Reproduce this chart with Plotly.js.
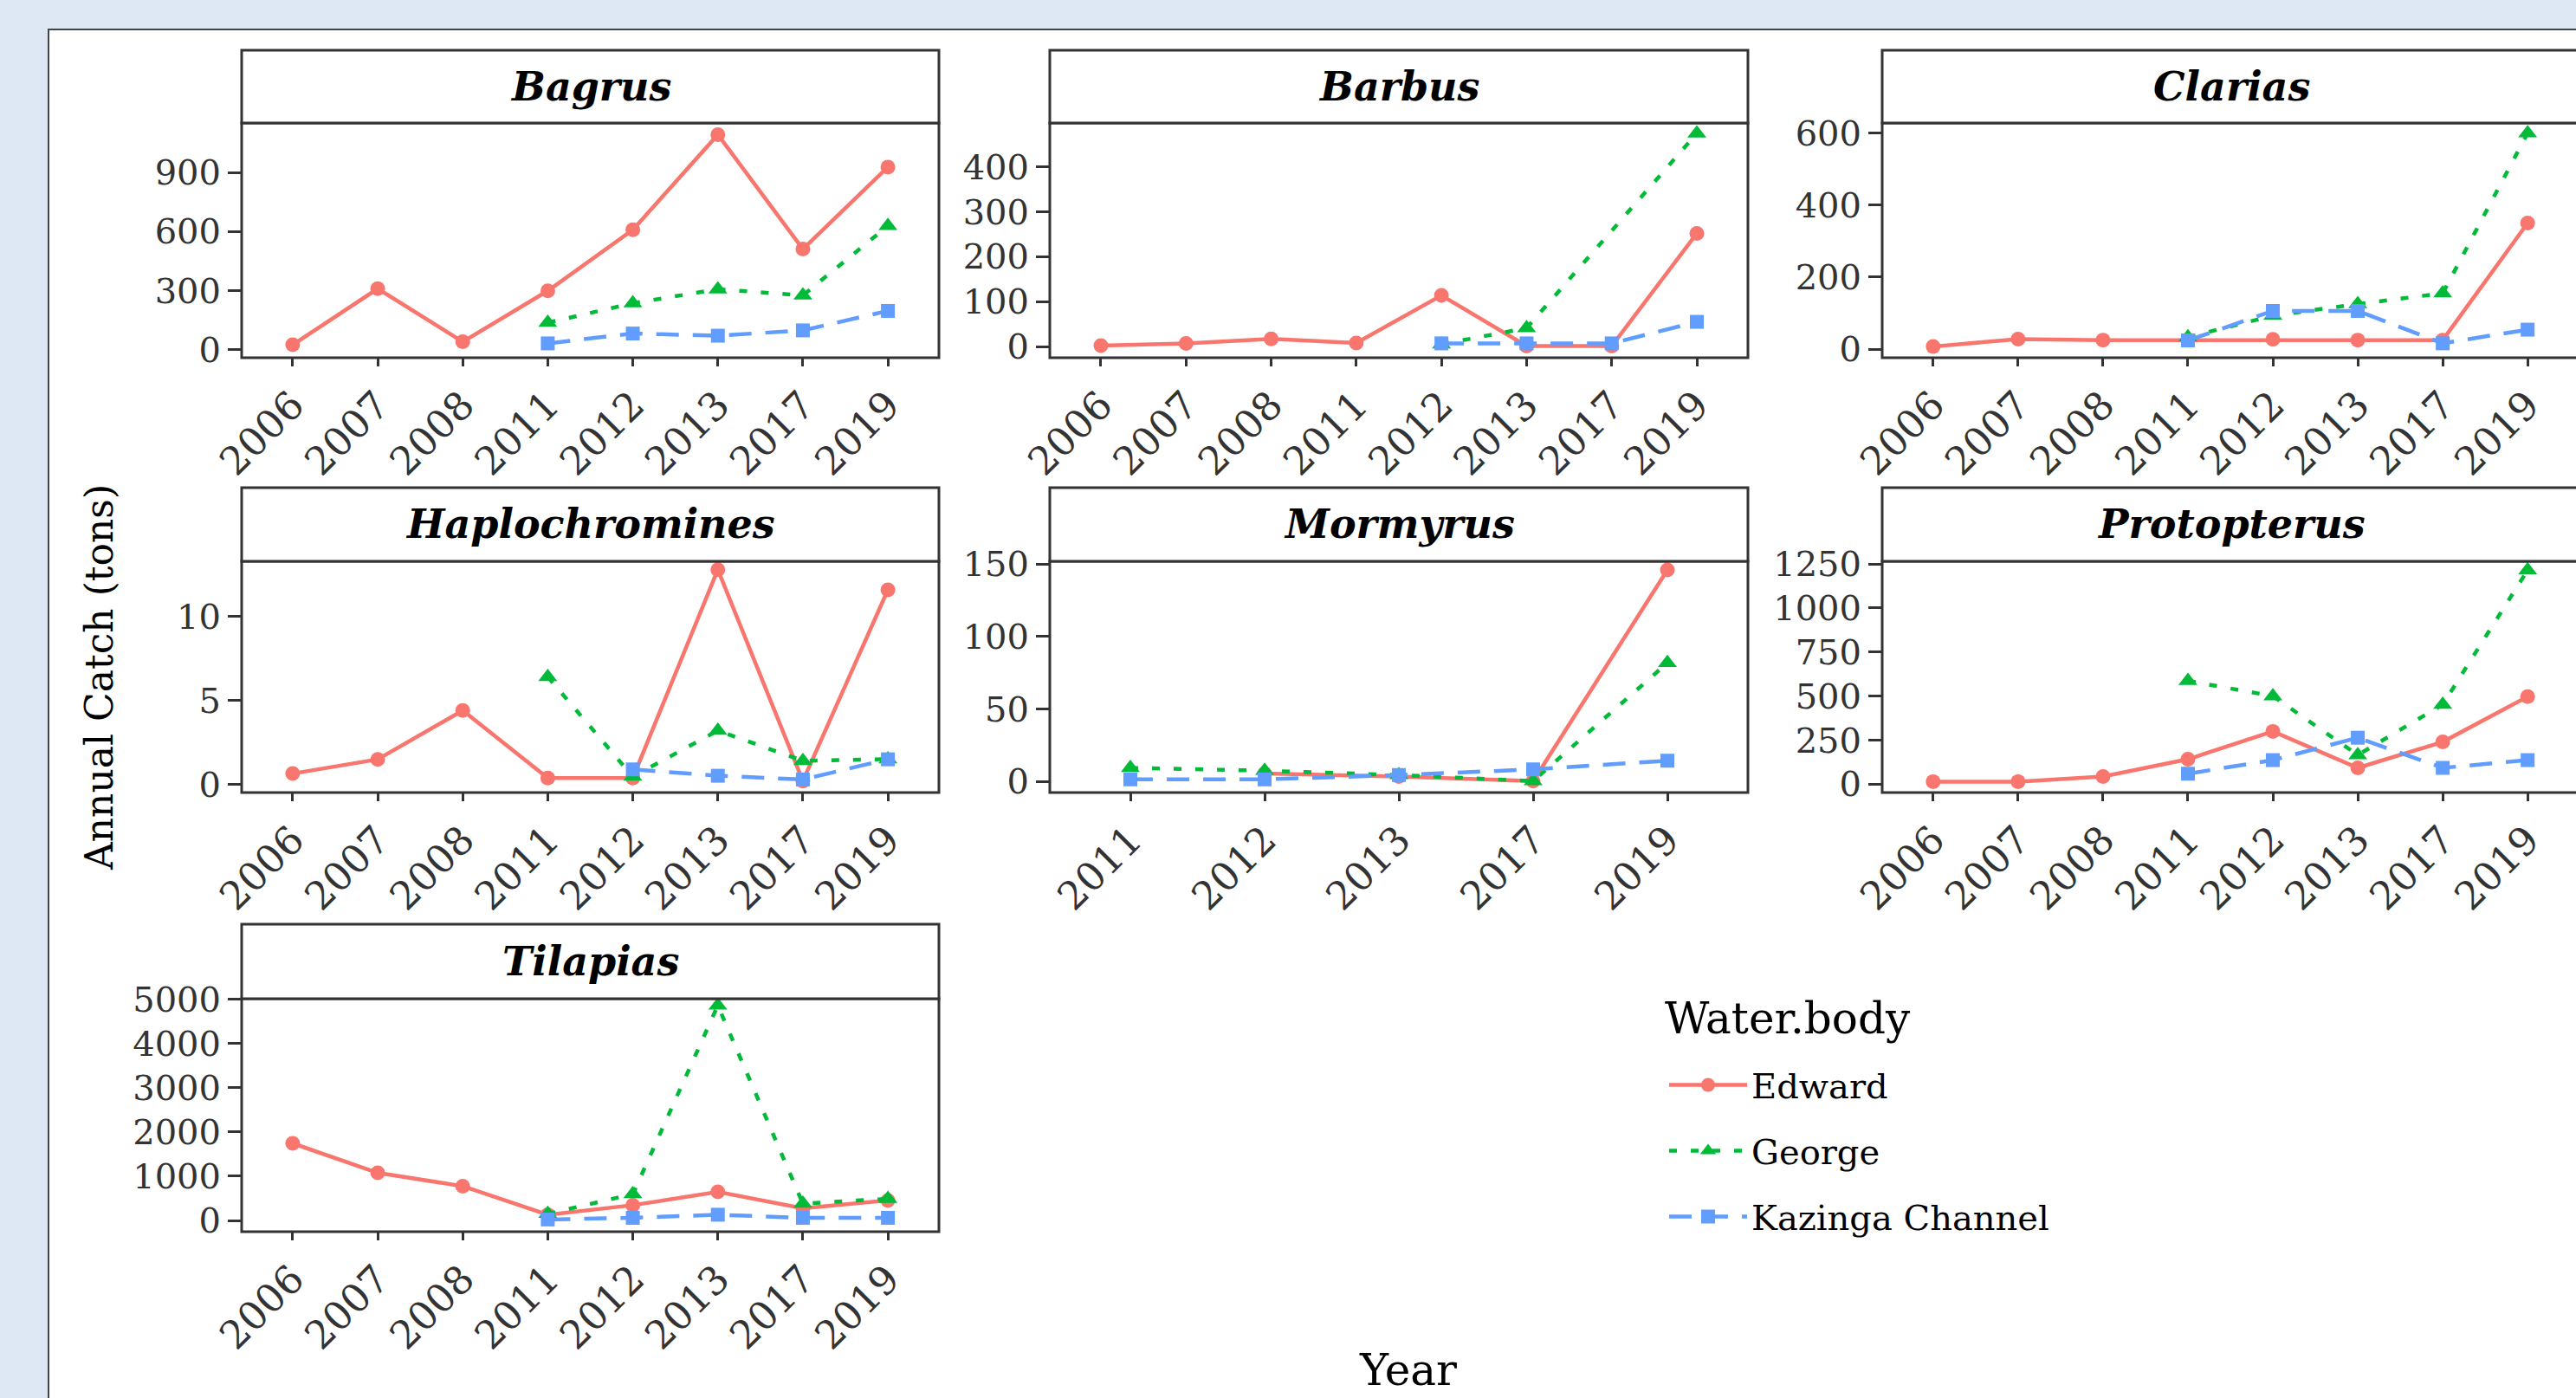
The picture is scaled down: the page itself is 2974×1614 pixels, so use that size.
<!DOCTYPE html>
<html><head><meta charset="utf-8">
<script src="https://cdn.plot.ly/plotly-3.0.1.min.js"></script>
<style>html,body{margin:0;padding:0;background:#dde8f4;overflow:hidden;} #chart{width:2974px;height:1614px;}</style>
</head><body><div id="chart"></div>
<script>
// ---------------- DATA ----------------
const years = ['2006','2007','2008','2011','2012','2013','2017','2019'];
const yearsMormyrus = ['2011','2012','2013','2017','2019'];
const speciesNames = ['Bagrus','Barbus','Clarias','Haplochromines','Mormyrus','Protopterus','Tilapias'];
const waterBodies = ['Edward','George','Kazinga Channel'];

const bagrusEdward  = [25, 310, 40, 299, 609, 1093, 511, 928];
const bagrusGeorge  = [null, null, null, 137, 236, 307, 276, 629];
const bagrusKazinga = [null, null, null, 32, 82, 71, 98, 197];

const barbusEdward  = [2, 7, 17, 8, 114, 1, 1, 252];
const barbusGeorge  = [null, null, null, null, 5, 41, null, 475];
const barbusKazinga = [null, null, null, null, 7, 7, 7, 55];

const clariasEdward  = [7, 28, 25, 25, 27, 25, 25, 350];
const clariasGeorge  = [null, null, null, 33, 93, 125, 155, 600];
const clariasKazinga = [null, null, null, 24, 106, 106, 16, 54];

const haploEdward  = [0.64, 1.49, 4.4, 0.38, 0.38, 12.79, 0.2, 11.59];
const haploGeorge  = [null, null, null, 6.4, 0.46, 3.2, 1.4, 1.5];
const haploKazinga = [null, null, null, null, 0.89, 0.51, 0.29, 1.49];

const mormyrusEdward  = [null, 5.5, 3.4, 0.2, 146];
const mormyrusGeorge  = [9.3, 7.4, 4.4, 0.2, 81.8];
const mormyrusKazinga = [1.4, 1.4, 4.4, 8.3, 14.3];

const protopterusEdward  = [15, 15, 44, 142, 300, 93, 240, 497];
const protopterusGeorge  = [null, null, null, 587, 500, 166, 452, 1215];
const protopterusKazinga = [null, null, null, 60, 137, 264, 93, 137];

const tilapiasEdward  = [1742, 1076, 775, 130, 345, 646, 274, 452];
const tilapiasGeorge  = [null, null, null, 150, 595, 4857, 380, 490];
const tilapiasKazinga = [null, null, null, 22, 59, 130, 59, 59];

// ---------------- LAYOUT HELPERS ----------------
const W = 2974, H = 1614;
const fx = px => px / W;
const fy = px => 1 - px / H;
const FONT = 'DejaVu Serif, Liberation Serif, serif';

const cols = [[279, 1084], [1212, 2018], [2173, 2977]];
const rows = [ {strip: [58, 142], plot: [142, 413]},
               {strip: [563, 648], plot: [648, 915]},
               {strip: [1067, 1153], plot: [1153, 1422]} ];

const panels = [
  {x: years, s: [bagrusEdward, bagrusGeorge, bagrusKazinga], yr: [-41, 1152], dt: 300, c: 0, r: 0},
  {x: years, s: [barbusEdward, barbusGeorge, barbusKazinga], yr: [-25, 498], dt: 100, c: 1, r: 0},
  {x: years, s: [clariasEdward, clariasGeorge, clariasKazinga], yr: [-24, 628], dt: 200, c: 2, r: 0},
  {x: years, s: [haploEdward, haploGeorge, haploKazinga], yr: [-0.49, 13.29], dt: 5, c: 0, r: 1},
  {x: yearsMormyrus, s: [mormyrusEdward, mormyrusGeorge, mormyrusKazinga], yr: [-7.7, 152], dt: 50, c: 1, r: 1},
  {x: years, s: [protopterusEdward, protopterusGeorge, protopterusKazinga], yr: [-47, 1265], dt: 250, c: 2, r: 1},
  {x: years, s: [tilapiasEdward, tilapiasGeorge, tilapiasKazinga], yr: [-254, 5010], dt: 1000, c: 0, r: 2}
];

const styles = [
  {color: '#F8766D', dash: 'solid', symbol: 'circle', size: 17},
  {color: '#00BA38', dash: '9px,16px', symbol: 'triangle-up', size: 19},
  {color: '#619CFF', dash: '26px,16px', symbol: 'square', size: 16}
];

const traces = [];
const layout = {
  width: W, height: H,
  margin: {l: 0, r: 0, t: 0, b: 0},
  paper_bgcolor: '#dde8f4',
  plot_bgcolor: 'rgba(0,0,0,0)',
  showlegend: true,
  font: {family: FONT, color: '#000'},
  shapes: [
    {type: 'rect', xref: 'paper', yref: 'paper', x0: fx(56), x1: fx(3100), y0: fy(1700), y1: fy(34),
     fillcolor: '#ffffff', line: {color: '#444', width: 2}, layer: 'below'}
  ],
  annotations: [],
  legend: {
    x: fx(1922), xanchor: 'left', y: fy(1220), yanchor: 'top',
    bgcolor: 'rgba(0,0,0,0)',
    font: {family: FONT, size: 40, color: '#000'},
    itemwidth: 90,
    tracegroupgap: 21,
    traceorder: 'grouped'
  }
};

panels.forEach((p, i) => {
  const k = i === 0 ? '' : String(i + 1);
  const col = cols[p.c], row = rows[p.r];
  const n = p.x.length;
  let xmax = n - 1 + 0.6;
  if (p.c === 2) {
    const unit = (col[1] - col[0]) / (n + 0.2);
    xmax = -0.6 + (W - col[0]) / unit;
  }
  const xDomRight = Math.min(1, fx(col[1]));
  layout['xaxis' + k] = {
    domain: [fx(col[0]), xDomRight], anchor: 'y' + k,
    type: 'category', categoryorder: 'array', categoryarray: p.x,
    range: [-0.6, xmax],
    tickangle: -45, ticks: 'outside', ticklen: 9, tickwidth: 3, tickcolor: '#333',
    showline: false, showgrid: false, zeroline: false, fixedrange: true,
    tickfont: {family: FONT, size: 45, color: '#333'}
  };
  layout['yaxis' + k] = {
    domain: [fy(row.plot[1]), fy(row.plot[0])], anchor: 'x' + k,
    range: p.yr, tick0: 0, dtick: p.dt,
    ticks: 'outside', ticklen: 15, tickwidth: 3, tickcolor: '#333',
    showline: false, showgrid: false, zeroline: false, fixedrange: true,
    tickfont: {family: FONT, size: 40, color: '#333'}
  };
  layout.shapes.push({type: 'rect', xref: 'paper', yref: 'paper',
    x0: fx(col[0]), x1: fx(col[1]), y0: fy(row.plot[1]), y1: fy(row.plot[0]),
    line: {color: '#333', width: 3}, fillcolor: 'rgba(0,0,0,0)', layer: 'above'});
  layout.shapes.push({type: 'rect', xref: 'paper', yref: 'paper',
    x0: fx(col[0]), x1: fx(col[1]), y0: fy(row.strip[1]), y1: fy(row.strip[0]),
    line: {color: '#333', width: 3}, fillcolor: '#ffffff', layer: 'above'});
  layout.annotations.push({xref: 'paper', yref: 'paper',
    x: fx(p.c === 2 ? (col[0] + 2173 + 806) / 2 : (col[0] + col[1]) / 2), y: fy((row.strip[0] + row.strip[1]) / 2),
    xanchor: 'center', yanchor: 'middle', showarrow: false,
    text: '<b><i>' + speciesNames[i] + '</i></b>',
    font: {family: FONT, size: 46, color: '#000'}});

  p.s.forEach((vals, j) => {
    const st = styles[j];
    traces.push({
      type: 'scatter', mode: 'lines+markers',
      x: p.x, y: vals, connectgaps: true,
      xaxis: 'x' + k, yaxis: 'y' + k,
      name: waterBodies[j], legendgroup: waterBodies[j], showlegend: i === 0,
      line: {color: st.color, width: 4.5, dash: st.dash},
      marker: {color: st.color, symbol: st.symbol, size: st.size},
      hoverinfo: 'x+y+name'
    });
  });
});

layout.annotations.push({xref: 'paper', yref: 'paper', x: fx(1920), y: fy(1176),
  xanchor: 'left', yanchor: 'middle', showarrow: false,
  text: 'Water.body', font: {family: FONT, size: 50, color: '#000'}});
layout.annotations.push({xref: 'paper', yref: 'paper', x: fx(114), y: fy(782),
  xanchor: 'center', yanchor: 'middle', showarrow: false, textangle: -90,
  text: 'Annual Catch (tons)', font: {family: FONT, size: 44, color: '#000'}});
layout.annotations.push({xref: 'paper', yref: 'paper', x: fx(1625), y: fy(1582),
  xanchor: 'center', yanchor: 'middle', showarrow: false,
  text: 'Year', font: {family: FONT, size: 50, color: '#000'}});

Plotly.newPlot('chart', traces, layout, {displayModeBar: false, staticPlot: true});
</script>
</body></html>
